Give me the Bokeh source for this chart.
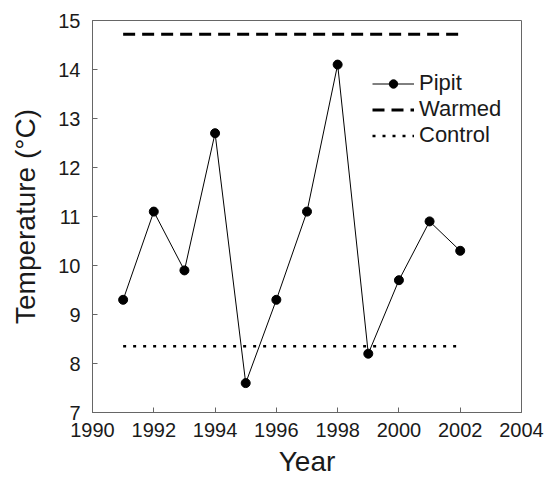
from bokeh.plotting import figure
from bokeh.models import Legend, LegendItem, FixedTicker, ColumnDataSource
from bokeh.embed import file_html
from bokeh.resources import INLINE

years = [1991, 1992, 1993, 1994, 1995, 1996, 1997, 1998, 1999, 2000, 2001, 2002]
pipit = [9.3, 11.1, 9.9, 12.7, 7.6, 9.3, 11.1, 14.1, 8.2, 9.7, 10.9, 10.3]
span_years = [1991, 2002]
warmed = [14.72, 14.72]
control = [8.35, 8.35]
x_ticks = [1990, 1992, 1994, 1996, 1998, 2000, 2002, 2004]
y_ticks = [7, 8, 9, 10, 11, 12, 13, 14, 15]

FONT = "Liberation Sans"
TXT = "#1a1a1a"
FRAME = "#666666"

p = figure(width=544, height=479, output_backend="svg", toolbar_location=None,
           x_range=(1990, 2004), y_range=(7, 15),
           min_border_left=92, min_border_right=23, min_border_top=20, min_border_bottom=67)

p.grid.visible = False
p.outline_line_color = FRAME
p.outline_line_width = 1

for ax, ticks in ((p.xaxis[0], x_ticks), (p.yaxis[0], y_ticks)):
    ax.ticker = FixedTicker(ticks=ticks)
    ax.major_tick_in = 5
    ax.major_tick_out = 0
    ax.minor_tick_line_color = None
    ax.axis_line_color = FRAME
    ax.major_tick_line_color = FRAME
    ax.major_label_text_font = FONT
    ax.major_label_text_font_size = "20px"
    ax.major_label_text_color = TXT
    ax.axis_label_text_font = FONT
    ax.axis_label_text_font_style = "normal"
    ax.axis_label_text_color = TXT

p.xaxis.axis_label = "Year"
p.xaxis.axis_label_text_font_size = "28px"
p.xaxis.major_label_standoff = 10
p.xaxis.axis_label_standoff = 6
p.yaxis.axis_label = "Temperature (°C)"
p.yaxis.axis_label_text_font_size = "28px"
p.yaxis.major_label_standoff = 12
p.yaxis.axis_label_standoff = 14

src = ColumnDataSource(dict(x=years, y=pipit))
l_pipit = p.line("x", "y", source=src, line_color="black", line_width=1)
s_pipit = p.scatter("x", "y", source=src, size=9, marker="circle", fill_color="black", line_color="black")
l_warm = p.line(span_years, warmed, line_color="black", line_width=3, line_dash="12 7")
l_ctrl = p.line(span_years, control, line_color="black", line_width=2.5, line_dash="3 7")

legend = Legend(items=[
    LegendItem(label="Pipit", renderers=[l_pipit, s_pipit]),
    LegendItem(label="Warmed", renderers=[l_warm]),
    LegendItem(label="Control", renderers=[l_ctrl]),
], location=(280, 264), padding=0, spacing=-5, margin=0,
    glyph_width=42, glyph_height=21, label_height=21, label_standoff=5,
    label_text_font=FONT, label_text_font_size="22px", label_text_color=TXT,
    background_fill_alpha=0, border_line_color=None)
p.add_layout(legend)

open("out.html", "w").write(file_html(p, INLINE))
